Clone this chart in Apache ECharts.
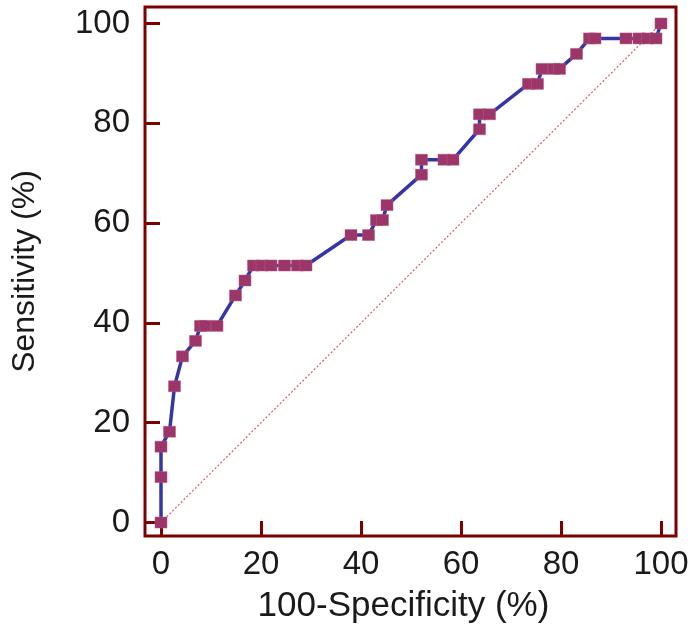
<!DOCTYPE html>
<html>
<head>
<meta charset="utf-8">
<script src="https://cdn.jsdelivr.net/npm/echarts@6/dist/echarts.min.js"></script>
<style>
  html, body { margin: 0; padding: 0; background: #ffffff; }
  #chart { width: 699px; height: 643px; }
</style>
</head>
<body>
<div id="chart"></div>
<script>
// 100-Specificity (%) values of the ROC points
var fpr = [0, 0, 0, 1.7, 2.7, 4.3, 6.9, 7.9, 8.8, 11.2, 14.9, 16.8, 18.5, 20.2, 22.0, 24.7, 27.3, 29.0,
           38.0, 41.5, 43.1, 44.3, 45.2, 52.1, 52.1, 56.6, 58.4, 63.7, 63.7, 65.7, 73.5, 75.3, 76.2,
           78.6, 79.7, 83.1, 85.7, 86.8, 93.0, 95.6, 97.3, 99.0, 100];
// Sensitivity (%) values of the ROC points
var sensitivity = [0, 9.1, 15.2, 18.2, 27.3, 33.3, 36.4, 39.4, 39.4, 39.4, 45.5, 48.5, 51.5, 51.5, 51.5, 51.5, 51.5, 51.5,
           57.6, 57.6, 60.6, 60.6, 63.6, 69.7, 72.7, 72.7, 72.7, 78.8, 81.8, 81.8, 87.9, 87.9, 90.9,
           90.9, 90.9, 93.9, 97.0, 97.0, 97.0, 97.0, 97.0, 97.0, 100];
// reference diagonal
var diagX = [0, 100];
var diagY = [0, 100];
// tick labels
var xTicks = [0, 20, 40, 60, 80, 100];
var yTicks = [0, 20, 40, 60, 80, 100];

var rocData = fpr.map(function (v, i) { return [v, sensitivity[i]]; });
var diagData = diagX.map(function (v, i) { return [v, diagY[i]]; });

var dark = '#7d0000';
var font = '"Liberation Sans", Arial, sans-serif';

var chart = echarts.init(document.getElementById('chart'), null, { renderer: 'canvas' });
chart.setOption({
  animation: false,
  backgroundColor: '#ffffff',
  grid: {
    left: 145, right: 23, top: 7, bottom: 107,
    show: true, borderColor: dark, borderWidth: 3, backgroundColor: 'transparent'
  },
  xAxis: {
    type: 'value',
    min: -3.2, max: 103,
    name: '100-Specificity (%)',
    nameLocation: 'middle',
    nameGap: 53,
    nameTextStyle: { fontFamily: font, fontSize: 35, color: '#1a1a1a', padding: [0, 14, 0, 0] },
    axisLine: { show: false, onZero: false },
    splitLine: { show: false },
    axisTick: {
      show: true, inside: true, length: 15, customValues: xTicks,
      lineStyle: { color: dark, width: 3 }
    },
    axisLabel: {
      customValues: xTicks, margin: 12,
      fontFamily: font, fontSize: 33, color: '#1a1a1a'
    }
  },
  yAxis: {
    type: 'value',
    min: -2.7, max: 103.3,
    name: 'Sensitivity (%)',
    nameLocation: 'middle',
    nameGap: 104,
    nameRotate: 90,
    nameTextStyle: { fontFamily: font, fontSize: 32, color: '#1a1a1a' },
    axisLine: { show: false, onZero: false },
    splitLine: { show: false },
    axisTick: {
      show: true, inside: true, length: 15, customValues: yTicks,
      lineStyle: { color: dark, width: 3 }
    },
    axisLabel: {
      customValues: yTicks, margin: 15,
      fontFamily: font, fontSize: 33, color: '#1a1a1a'
    }
  },
  series: [
    {
      type: 'line',
      data: diagData,
      showSymbol: false,
      silent: true,
      lineStyle: { color: '#c86464', width: 1.2, type: [2, 2] },
      z: 1
    },
    {
      type: 'line',
      data: rocData,
      symbol: 'rect',
      symbolSize: [12, 11],
      showSymbol: true,
      showAllSymbol: true,
      lineStyle: { color: '#3535a8', width: 3.5 },
      itemStyle: { color: '#9c3568', borderColor: '#b45a84', borderWidth: 0.5 },
      z: 3
    }
  ]
});
</script>
</body>
</html>
